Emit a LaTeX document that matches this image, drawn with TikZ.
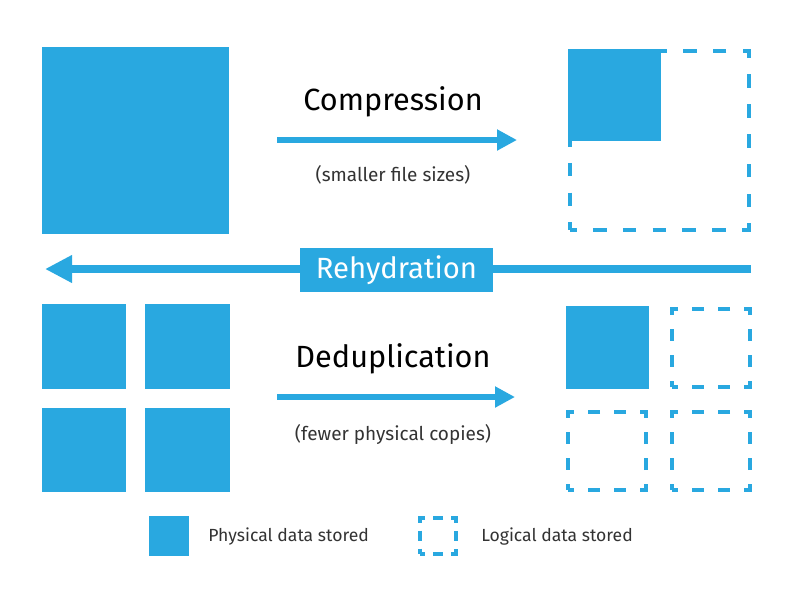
\documentclass[tikz,border=0pt]{standalone}
\usepackage{fontspec}
\setmainfont{Fira Sans}
\usepackage{tikz}
\usetikzlibrary{arrows.meta}

\definecolor{dblue}{RGB}{41,168,224}
\definecolor{dtext}{RGB}{51,51,51}

\begin{document}
\begin{tikzpicture}[
  x=0.025cm, y=-0.025cm,
  phys/.style={fill=dblue, inner sep=0pt, outer sep=0pt},
  logi/.style={draw=dblue, line width=0.1cm, inner sep=0pt, outer sep=0pt},
  dbig/.style={logi, dash pattern=on 0.34cm off 0.405cm, dash phase=0.17cm},
  dsmall/.style={logi, dash pattern=on 0.3cm off 0.35cm, dash phase=0.15cm},
  dtiny/.style={logi, dash pattern=on 0.25cm off 0.2cm, dash phase=0.125cm},
  title/.style={font=\fontsize{21.8}{26}\selectfont, text=black},
  sub/.style={font=\fontsize{13.5}{16}\selectfont, text=dtext},
  legend/.style={font=\fontsize{12.5}{15}\selectfont, text=dtext, anchor=west, inner sep=0pt},
  arr/.style={line width=0.15cm, draw=dblue, -{Triangle[length=0.5cm, width=0.5cm]}},
]
  \useasboundingbox (0,0) rectangle (800,600);

  % compression
  \node[phys, minimum size=4.675cm] (full) at (135.5,140.5) {};
  \node[dbig, minimum size=4.475cm] (cbox) at (659.5,140.5) {};
  \node[phys, minimum size=2.3cm] (csmall) at (614.5,95) {};
  \node[title] (ctitle) at (393,102) {Compression};
  \node[sub] (csub) at (393,175) {(smaller file sizes)};
  \coordinate (c0) at (277,140);
  \coordinate (c1) at (517,140);
  \draw[arr] (c0) -- (c1);

  % rehydration
  \coordinate (r1) at (751,269);
  \coordinate (r0) at (45,269);
  \draw[draw=dblue, line width=0.2cm, -{Triangle[length=0.675cm, width=0.65cm]}] (r1) -- (r0);
  \node[phys, minimum width=4.825cm, minimum height=1.1cm, text=white,
        font=\fontsize{20.8}{25}\selectfont] (rehyd) at (396.5,270) {Rehydration};

  % deduplication
  \foreach \cx/\cy [count=\i] in {84/346.5, 187.5/346.5, 84/450, 187.5/450}
    \node[phys, minimum size=2.1cm] (dup\i) at (\cx,\cy) {};
  \node[phys, minimum size=2.075cm] (uniq) at (607.5,347.5) {};
  \node[dsmall, minimum size=1.95cm] (ref1) at (711,348) {};
  \node[dsmall, minimum size=1.95cm] (ref2) at (607,451) {};
  \node[dsmall, minimum size=1.95cm] (ref3) at (711,451) {};
  \node[title] (dtitle) at (393,359) {Deduplication};
  \node[sub] (dsub) at (393,434) {(fewer physical copies)};
  \coordinate (d0) at (277,397);
  \coordinate (d1) at (515,397);
  \draw[arr] (d0) -- (d1);

  % legend
  \node[phys, minimum size=1cm] (lphys) at (169,535.5) {};
  \node[legend] (lphystxt) at (208,537) {Physical data stored};
  \node[dtiny, minimum size=0.9cm] (llog) at (438,535.5) {};
  \node[legend] (llogtxt) at (481,537) {Logical data stored};
\end{tikzpicture}
\end{document}
